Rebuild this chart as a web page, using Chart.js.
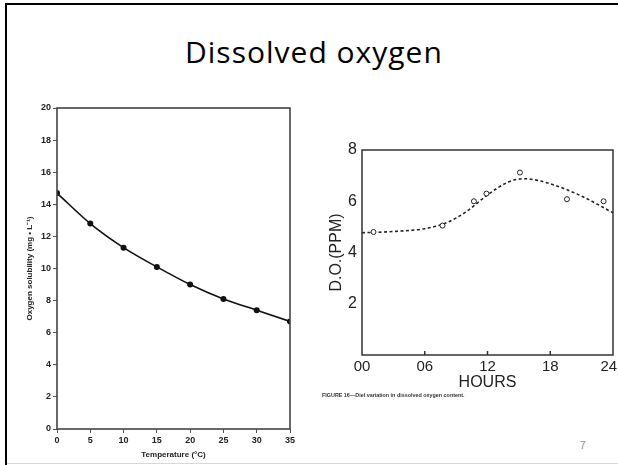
<!DOCTYPE html>
<html>
<head>
<meta charset="utf-8">
<script src="https://cdn.jsdelivr.net/npm/chart.js@4.4.0/dist/chart.umd.min.js"></script>
<style>
    html, body { margin: 0; padding: 0; background: #fff; }
    body { width: 618px; height: 465px; position: relative; overflow: hidden; }
    canvas { position: absolute; }
    #left-chart { left: 0; top: 95px; }
    #right-chart { left: 320px; top: 135px; }
    .frame-top { position: absolute; left: 5px; top: 3px; width: 613px; height: 2px; background: #000; }
    .frame-left { position: absolute; left: 5px; top: 3px; width: 2px; height: 462px; background: #000; }
    .frame-bottom { position: absolute; left: 7px; top: 463px; width: 611px; height: 1px; background: #d8d8d8; }
    .slide-title { position: absolute; left: 185px; top: 37px; font: 30px "Open Sans", sans-serif; letter-spacing: 1px; line-height: 30px; color: #000; white-space: nowrap; }
    .caption { position: absolute; left: 322px; top: 392px; font: bold 5.4px "Liberation Sans", Arial, sans-serif; color: #333; white-space: nowrap; }
    .page-num { position: absolute; left: 580px; top: 440px; font: 10px "Liberation Sans", Arial, sans-serif; color: #8a8a8a; }
</style>
</head>
<body>
<canvas id="left-chart" width="310" height="370"></canvas>
<canvas id="right-chart" width="330" height="260"></canvas>
<div class="frame-top"></div>
<div class="frame-left"></div>
<div class="frame-bottom"></div>
<div class="slide-title">Dissolved oxygen</div>
<div class="caption">FIGURE 16—Diel variation in dissolved oxygen content.</div>
<div class="page-num">7</div>

<script>
// Solubilidad del oxígeno frente a temperatura (gráfico izquierdo)
const tempC = [0, 5, 10, 15, 20, 25, 30, 35];
const solubility = [14.7, 12.8, 11.3, 10.1, 9.0, 8.1, 7.4, 6.7];

// Variación diaria del oxígeno disuelto (gráfico derecho)
const hoursObs = [1.1, 7.7, 10.7, 11.9, 15.1, 19.6, 23.1];
const doObs = [4.8, 5.05, 6.0, 6.3, 7.12, 6.08, 6.0];
const hoursFit = [0, 3, 6, 8, 10, 12, 14, 15.5, 18, 21, 24];
const doFit = [4.77, 4.82, 4.93, 5.15, 5.6, 6.25, 6.75, 6.88, 6.68, 6.2, 5.55];
const hourTicks = ['00', '06', '12', '18', '24'];

// Marco alrededor del área del gráfico
const boxPlugin = {
    id: 'box',
    afterDraw(chart, args, opts) {
        const a = chart.chartArea;
        const ctx = chart.ctx;
        ctx.save();
        ctx.strokeStyle = opts.color || '#333';
        ctx.lineWidth = opts.width || 1.5;
        ctx.strokeRect(a.left, a.top, a.right - a.left, a.bottom - a.top);
        // marcas interiores en el eje x
        if (opts.innerTicks) {
            const xs = chart.scales.x;
            opts.innerTicks.forEach(v => {
                const px = xs.getPixelForValue(v);
                ctx.beginPath();
                ctx.moveTo(px, a.bottom);
                ctx.lineTo(px, a.bottom - 4);
                ctx.stroke();
            });
        }
        ctx.restore();
    }
};

const toXY = (xs, ys) => xs.map((x, i) => ({ x: x, y: ys[i] }));

// Gráfico izquierdo
new Chart(document.getElementById('left-chart'), {
    type: 'line',
    data: {
        datasets: [{
            data: toXY(tempC, solubility),
            borderColor: '#111',
            backgroundColor: '#111',
            borderWidth: 1.6,
            pointRadius: 3,
            pointBorderWidth: 0,
            cubicInterpolationMode: 'monotone',
            fill: false
        }]
    },
    plugins: [boxPlugin],
    options: {
        responsive: false,
        animation: false,
        devicePixelRatio: 1,
        layout: { padding: { left: 21, top: 13, right: 20, bottom: 0 } },
        plugins: {
            legend: { display: false },
            tooltip: { enabled: false },
            box: { color: '#444', width: 1.6 }
        },
        scales: {
            x: {
                type: 'linear',
                min: 0, max: 35,
                afterFit(scale) { scale.height = 36; },
                ticks: { stepSize: 5, padding: 2, color: '#222', font: { family: 'Liberation Sans', size: 9, weight: 'bold' } },
                grid: { drawOnChartArea: false, tickLength: 4, color: '#555' },
                border: { display: false },
                title: {
                    display: true,
                    text: 'Temperature (°C)',
                    color: '#222',
                    padding: { top: 0, bottom: 5 },
                    font: { family: 'Liberation Sans', size: 8, weight: 'bold' }
                }
            },
            y: {
                min: 0, max: 20,
                afterFit(scale) { scale.width = 36; },
                ticks: { stepSize: 2, padding: 2, color: '#222', font: { family: 'Liberation Sans', size: 9, weight: 'bold' } },
                grid: { drawOnChartArea: false, tickLength: 4, color: '#555' },
                border: { display: false },
                title: {
                    display: true,
                    text: 'Oxygen solubility (mg • L⁻¹)',
                    color: '#222',
                    padding: { top: 4, bottom: 0 },
                    font: { family: 'Liberation Sans', size: 8, weight: 'bold' }
                }
            }
        }
    }
});

// Gráfico derecho
new Chart(document.getElementById('right-chart'), {
    type: 'scatter',
    data: {
        datasets: [
            {
                data: toXY(hoursObs, doObs),
                borderColor: '#222',
                backgroundColor: '#fff',
                borderWidth: 1,
                pointRadius: 2.5,
                showLine: false
            },
            {
                data: toXY(hoursFit, doFit),
                borderColor: '#222',
                borderWidth: 1.6,
                borderDash: [3, 2.5],
                pointRadius: 0,
                showLine: true,
                cubicInterpolationMode: 'monotone',
                fill: false
            }
        ]
    },
    plugins: [boxPlugin],
    options: {
        responsive: false,
        animation: false,
        devicePixelRatio: 1,
        layout: { padding: { left: 7, top: 15, right: 37, bottom: 0 } },
        plugins: {
            legend: { display: false },
            tooltip: { enabled: false },
            box: { color: '#333', width: 1.5, innerTicks: [6, 12, 18] }
        },
        scales: {
            x: {
                type: 'linear',
                min: 0, max: 24,
                afterFit(scale) { scale.height = 40; },
                ticks: {
                    stepSize: 6, padding: 3, color: '#222',
                    font: { family: 'Liberation Sans', size: 15 },
                    // la última etiqueta queda pegada al borde de la diapositiva
                    callback: (v) => v === 24 ? hourTicks[4] + '  ' : hourTicks[v / 6]
                },
                grid: { display: false, drawTicks: false },
                border: { display: false },
                title: {
                    display: true,
                    text: 'HOURS',
                    color: '#222',
                    padding: { top: 0, bottom: 3 },
                    font: { family: 'Liberation Sans', size: 16 }
                }
            },
            y: {
                min: 0, max: 8,
                afterFit(scale) { scale.width = 35; },
                ticks: {
                    stepSize: 2, padding: 5, color: '#222',
                    font: { family: 'Liberation Sans', size: 16 },
                    callback: (v) => v === 0 ? '' : v
                },
                grid: { display: false, drawTicks: false },
                border: { display: false },
                title: {
                    display: true,
                    text: 'D.O.(PPM)',
                    color: '#222',
                    padding: { top: 0, bottom: 0 },
                    font: { family: 'Liberation Sans', size: 16 }
                }
            }
        }
    }
});
</script>
</body>
</html>
